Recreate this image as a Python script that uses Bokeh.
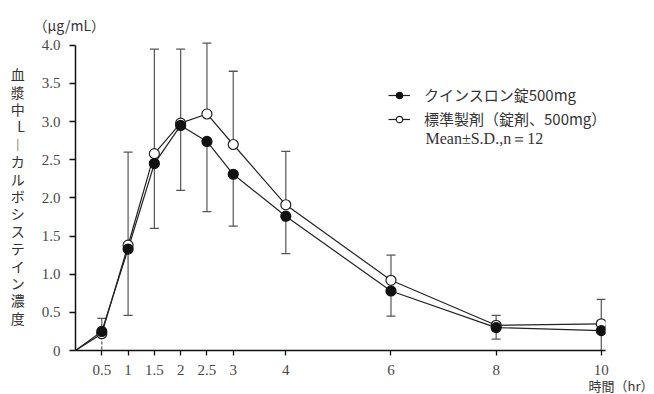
from bokeh.plotting import figure
from bokeh.models import ColumnDataSource, Range1d, FixedTicker, Label, Legend, LegendItem, Title
from bokeh.embed import file_html
from bokeh.resources import INLINE

# ---- data ----
times = [0.5, 1, 1.5, 2, 2.5, 3, 4, 6, 8, 10]
test_mean = [0.25, 1.33, 2.45, 2.95, 2.74, 2.31, 1.76, 0.78, 0.30, 0.26]   # クインスロン錠500mg
test_sd = [0.30, 0.87, 0.85, 0.85, 0.92, 0.68, 0.49, 0.33, 0.15, 0.30]
std_mean = [0.22, 1.38, 2.58, 2.98, 3.10, 2.70, 1.91, 0.92, 0.33, 0.35]    # 標準製剤
std_sd = [0.20, 1.22, 1.37, 0.97, 0.93, 0.96, 0.70, 0.33, 0.13, 0.32]
start_time = 0
start_conc = 0

x_ticks = [0.5, 1, 1.5, 2, 2.5, 3, 4, 6, 8, 10]
x_tick_labels = ["0.5", "1", "1.5", "2", "2.5", "3", "4", "6", "8", "10"]
y_ticks = [0, 0.5, 1.0, 1.5, 2.0, 2.5, 3.0, 3.5, 4.0]
y_tick_labels = ["0", "0.5", "1.0", "1.5", "2.0", "2.5", "3.0", "3.5", "4.0"]

series_names = ["クインスロン錠500mg", "標準製剤（錠剤、500mg）"]
note_text = "Mean±S.D.,n＝12"
unit_text = "（μg/mL）"
y_title = "血漿中L︱カルボシステイン濃度"
x_title = "時間（hr）"

NUM_FONT = "Liberation Serif"
JP_FONT = "Noto Sans CJK JP"
INK = "#222222"
BAR = "#555555"

p = figure(width=654, height=394, x_range=Range1d(0, 10.08), y_range=Range1d(0, 4.05),
           output_backend="svg", toolbar_location=None,
           min_border_left=75, min_border_right=49, min_border_top=41, min_border_bottom=44)
p.outline_line_color = None
p.xgrid.visible = False
p.ygrid.visible = False

for ax in (p.xaxis[0], p.yaxis[0]):
    ax.axis_line_color = "#111111"
    ax.axis_line_width = 1.5
    ax.major_tick_line_color = "#111111"
    ax.major_tick_line_width = 1.3
    ax.minor_tick_line_color = None
    ax.major_tick_in = 0
    ax.major_label_text_font = NUM_FONT
    ax.major_label_text_font_size = "15px"
    ax.major_label_text_color = "#484848"

p.xaxis[0].ticker = FixedTicker(ticks=x_ticks)
p.xaxis[0].major_label_overrides = {t: l for t, l in zip(x_ticks, x_tick_labels)}
p.xaxis[0].major_tick_out = 5
p.xaxis[0].major_label_standoff = 9
p.yaxis[0].ticker = FixedTicker(ticks=y_ticks)
p.yaxis[0].major_label_overrides = {t: l for t, l in zip(y_ticks, y_tick_labels)}
p.yaxis[0].major_tick_out = 6
p.yaxis[0].major_label_standoff = 9
p.yaxis[0].bounds = (0, 4.0)

# vertical (upright, stacked) y-axis title
p.yaxis[0].axis_label = "\n".join(y_title)
p.yaxis[0].axis_label_orientation = "horizontal"
p.yaxis[0].axis_label_text_font = JP_FONT
p.yaxis[0].axis_label_text_font_size = "14px"
p.yaxis[0].axis_label_text_font_style = "normal"
p.yaxis[0].axis_label_text_color = "#333333"
p.yaxis[0].axis_label_text_line_height = 0.87
p.yaxis[0].axis_label_standoff = 14

# ---- error bars: standard (up), test (down) ----
std_up = [m + s for m, s in zip(std_mean, std_sd)]
test_lo_raw = [m - s for m, s in zip(test_mean, test_sd)]
test_lo = [max(v, 0) for v in test_lo_raw]

up_src = ColumnDataSource(dict(x=times, y0=std_mean, y1=std_up))
p.segment(x0="x", y0="y0", x1="x", y1="y1", source=up_src, line_color=BAR, line_width=1.2)
p.scatter(x="x", y="y1", source=up_src, marker="dash", size=9, line_color=BAR, line_width=1.3)

solid_idx = [i for i in range(len(times)) if not (test_lo_raw[i] < 0 and i == 0)]
dash_idx = [i for i in range(len(times)) if test_lo_raw[i] < 0 and i == 0]
lo_src = ColumnDataSource(dict(x=[times[i] for i in solid_idx], y0=[test_mean[i] for i in solid_idx],
                               y1=[test_lo[i] for i in solid_idx]))
p.segment(x0="x", y0="y0", x1="x", y1="y1", source=lo_src, line_color=BAR, line_width=1.2)
cap_idx = [i for i in range(len(times)) if test_lo_raw[i] >= 0]
cap_src = ColumnDataSource(dict(x=[times[i] for i in cap_idx], y=[test_lo[i] for i in cap_idx]))
p.scatter(x="x", y="y", source=cap_src, marker="dash", size=9, line_color=BAR, line_width=1.3)
dash_src = ColumnDataSource(dict(x=[times[i] for i in dash_idx], y0=[test_mean[i] for i in dash_idx],
                                 y1=[test_lo[i] for i in dash_idx]))
p.segment(x0="x", y0="y0", x1="x", y1="y1", source=dash_src, line_color=BAR, line_width=1.2,
          line_dash="3 2")

# ---- lines & markers ----
std_src = ColumnDataSource(dict(x=times, y=std_mean))
test_src = ColumnDataSource(dict(x=times, y=test_mean))
std_line = p.line([start_time] + times, [start_conc] + std_mean, line_color=INK, line_width=1.2)
test_line = p.line([start_time] + times, [start_conc] + test_mean, line_color=INK, line_width=1.2)
std_pts = p.scatter(x="x", y="y", source=std_src, marker="circle", size=10,
                    fill_color="white", line_color=INK, line_width=1.2)
test_pts = p.scatter(x="x", y="y", source=test_src, marker="circle", size=10,
                     fill_color="#111111", line_color="#111111", line_width=1.2)

legend = Legend(items=[LegendItem(label=series_names[0], renderers=[test_line, test_pts]),
                       LegendItem(label=series_names[1], renderers=[std_line, std_pts])],
                location=(313, 221), orientation="vertical",
                glyph_width=22, glyph_height=16, label_height=16, spacing=3,
                label_standoff=14, padding=0, margin=0,
                border_line_alpha=0, background_fill_alpha=0,
                label_text_font=JP_FONT, label_text_font_size="15px", label_text_color="#333333")
p.add_layout(legend, "center")

p.add_layout(Label(x=350, y=212, x_units="screen", y_units="screen", text=note_text,
                   text_font=NUM_FONT, text_font_size="16px", text_color="#333333",
                   text_baseline="middle"))

# unit (top-left) and x title (bottom-right) as titles in the side panels
p.add_layout(Title(text=unit_text, align="left", offset=-42, standoff=14,
                   text_font=JP_FONT, text_font_size="14px", text_font_style="normal",
                   text_color="#333333"), "above")
p.add_layout(Title(text=x_title, align="right", offset=-48, standoff=-7,
                   text_font=JP_FONT, text_font_size="13px", text_font_style="normal",
                   text_color="#333333"), "below")

open("out.html", "w").write(file_html(p, INLINE))
